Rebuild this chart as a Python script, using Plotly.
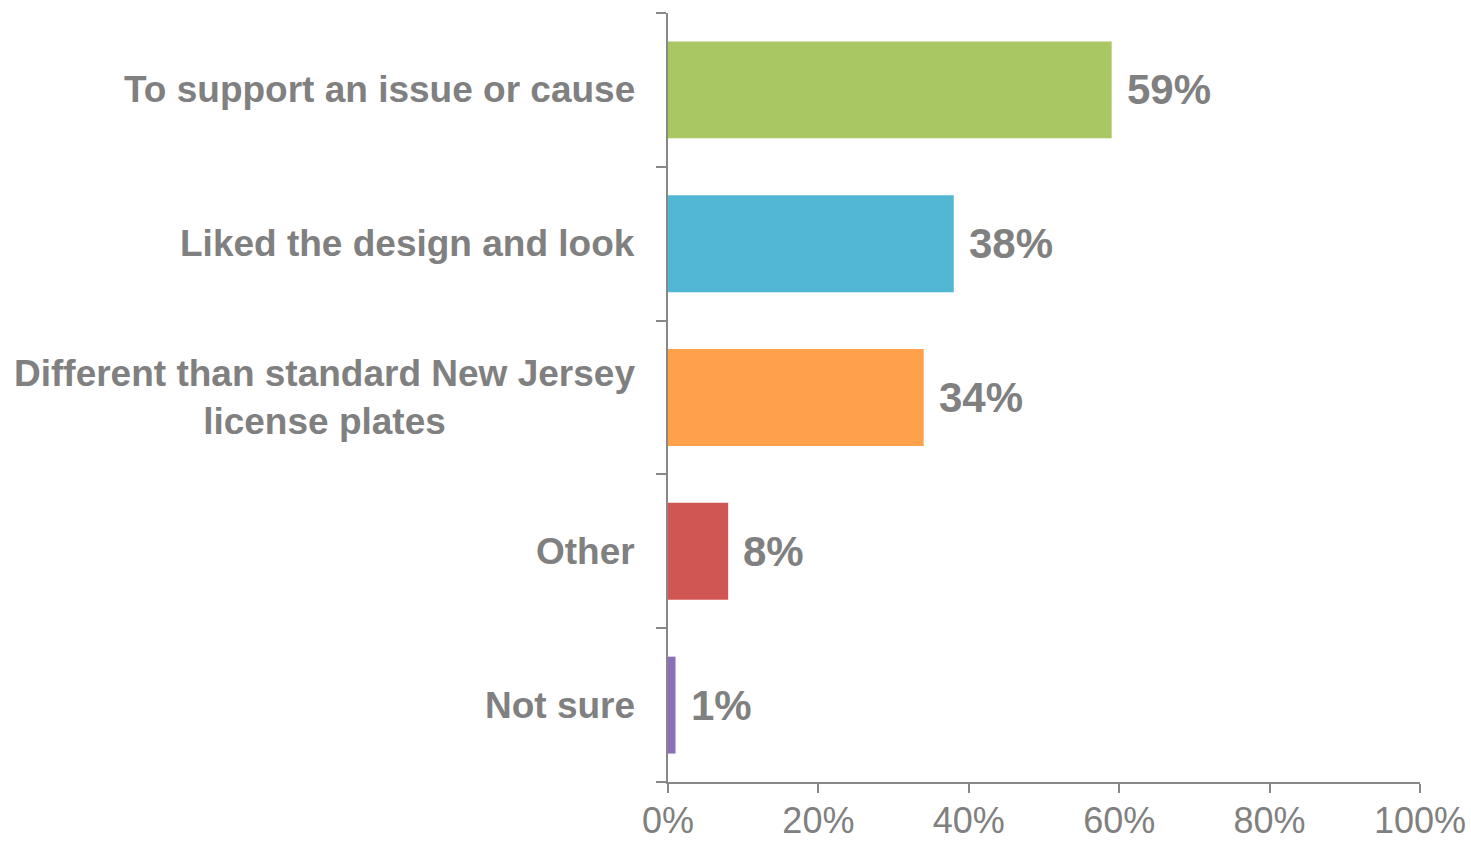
import plotly.graph_objects as go

categories = ["To support an issue or cause", "Liked the design and look",
              "Different than standard New Jersey<br>license plates", "Other", "Not sure"]
values = [59, 38, 34, 8, 1]
colors = ["#A9C864", "#52B7D5", "#FFA04B", "#D05654", "#8D6EB8"]
x_ticks = [0, 20, 40, 60, 80, 100]
x_tick_labels = ["0%", "20%", "40%", "60%", "80%", "100%"]

GRAY = "#808080"
AXIS = "#888888"
FONT = "Liberation Sans, Arial, sans-serif"

fig = go.Figure()
fig.add_trace(go.Bar(
    y=categories, x=values, orientation="h",
    marker=dict(color=colors, line=dict(width=0)),
    hoverinfo="skip",
))

annotations = []
for c, v in zip(categories, values):
    annotations.append(dict(
        x=v, y=c, xref="x", yref="y", text=f"<b>{v}%</b>", showarrow=False,
        xanchor="left", yanchor="middle", xshift=13,
        font=dict(family=FONT, size=42, color=GRAY),
    ))
    annotations.append(dict(
        x=0, y=c, xref="paper", yref="y", text=f"<b>{c}</b>", showarrow=False,
        xanchor="right", yanchor="middle", xshift=-31, align="center",
        font=dict(family=FONT, size=37, color=GRAY),
    ))

fig.update_layout(
    width=1471, height=842,
    margin=dict(l=668, r=51, t=13, b=60),
    paper_bgcolor="white", plot_bgcolor="white",
    bargap=0.37,
    showlegend=False,
    annotations=annotations,
    font=dict(family=FONT, color=GRAY),
)
fig.update_xaxes(
    range=[0, 100], tickmode="array", tickvals=x_ticks, ticktext=x_tick_labels,
    showgrid=False, zeroline=False, showline=True, linecolor=AXIS, linewidth=2,
    ticks="outside", ticklen=9, tickwidth=2, tickcolor=AXIS,
    tickfont=dict(family=FONT, size=36, color=GRAY), automargin=False,
    ticklabelstandoff=-3,
)
fig.update_yaxes(
    categoryorder="array", categoryarray=categories[::-1],
    showticklabels=False, showgrid=False, zeroline=False,
    showline=True, linecolor=AXIS, linewidth=2, automargin=False,
    ticks="outside", ticklen=10, tickwidth=2, tickcolor=AXIS, tickson="boundaries",
)

fig.write_html("out.html", config={"displayModeBar": False},
               post_script="document.body.style.margin='0';document.body.style.overflow='hidden';")
